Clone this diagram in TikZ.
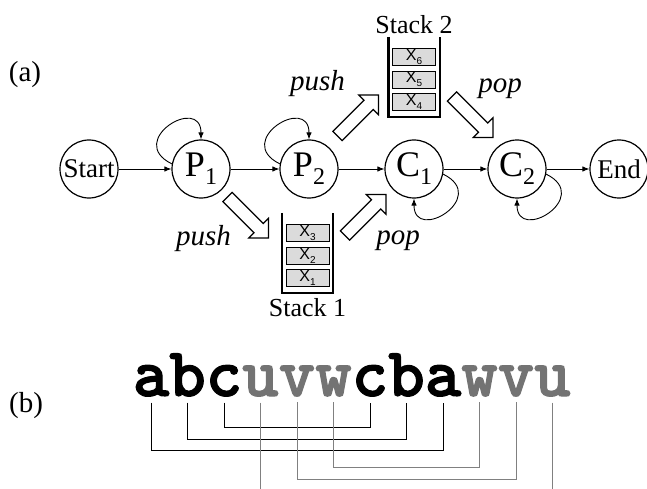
\documentclass[tikz,border=0pt]{standalone}
\usepackage{fontspec}
\setmainfont{Liberation Serif}
\setsansfont{Liberation Sans}
\newfontfamily\strfont{lmmonolt10-bold.otf}[FakeBold=1.6]
\usetikzlibrary{arrows.meta, positioning}

\definecolor{itemgray}{gray}{0.86}
\definecolor{strgray}{gray}{0.45}
\definecolor{linegray}{gray}{0.5}

\newcommand{\statelab}[2]{#1\raisebox{-8pt}{\fontsize{24}{24}\selectfont #2}}
\newcommand{\itemlab}[1]{X\raisebox{-4pt}{\fontsize{10}{10}\selectfont #1}}

\tikzset{
  blockarrow/.pic={
    \draw[line width=1.2pt, fill=white, line join=miter]
      (-29,-6.5) -- (15,-6.5) -- (15,-14) -- (29,0) -- (15,14) -- (15,6.5) -- (-29,6.5) -- cycle;
  }
}

\begin{document}
\begin{tikzpicture}[
  x=1pt, y=1pt,
  state/.style={
    circle, draw=black, line width=1.2pt, minimum size=58pt, inner sep=0pt,
    font=\fontsize{36}{36}\selectfont
  },
  endstate/.style={state, font=\fontsize{27}{27}\selectfont},
  flow/.style={-{Latex[length=7pt,width=5.5pt]}, line width=0.9pt},
  stackbox/.style={minimum width=51pt, minimum height=80pt, inner sep=0pt},
  wall/.style={line width=2.4pt},
  item/.style={
    draw=black, line width=0.8pt, fill=itemgray, minimum width=43pt,
    minimum height=17pt, inner sep=0pt, font=\sffamily\fontsize{16}{16}\selectfont
  },
  oplabel/.style={font=\itshape\fontsize{29}{29}\selectfont},
  caption/.style={font=\fontsize{26}{26}\selectfont},
  partlabel/.style={font=\fontsize{29}{29}\selectfont},
  letter/.style={anchor=base, inner sep=0pt, font=\strfont\fontsize{69.5}{69.5}\selectfont},
  pairline/.style={line width=0.9pt}
]
\useasboundingbox (0,0) rectangle (647,-489);

% ----------------- PART LABELS -----------------
\node[partlabel] (lbla) at (25,-75) {(a)};
\node[partlabel] (lblb) at (26,-406) {(b)};

% ----------------- STATES -----------------
\node[endstate] (start) at (89,-169) {Start};
\node[state] (p1) at (201,-169) {\statelab{P}{1}};
\node[state] (p2) at (309,-169) {\statelab{P}{2}};
\node[state] (c1) at (414,-169) {\statelab{C}{1}};
\node[state] (c2) at (517,-169) {\statelab{C}{2}};
\node[endstate] (end) at (619,-169) {End};

\draw[flow] (start) -- (p1);
\draw[flow] (p1) -- (p2);
\draw[flow] (p2) -- (c1);
\draw[flow] (c1) -- (c2);
\draw[flow] (c2) -- (end);

% self loops
\draw[flow] (p1.170) .. controls +(-47,23) and +(0,45) .. (p1.north);
\draw[flow] (p2.170) .. controls +(-47,23) and +(0,45) .. (p2.north);
\draw[flow] (c1.-10) .. controls +(47,-23) and +(0,-45) .. (c1.south);
\draw[flow] (c2.-10) .. controls +(47,-23) and +(0,-45) .. (c2.south);

% ----------------- STACKS -----------------
\node[stackbox] (stack1) at (307.5,-253) {};
\draw[wall] (stack1.north west) -- (stack1.south west) -- (stack1.south east) -- (stack1.north east);
\node[item, above=6pt of stack1.south] (x1) {\itemlab{1}};
\node[item, above=5pt of x1] (x2) {\itemlab{2}};
\node[item, above=5pt of x2] (x3) {\itemlab{3}};
\node[caption, below=2pt of stack1] (cap1) {Stack 1};

\node[stackbox] (stack2) at (414,-77) {};
\draw[wall] (stack2.north west) -- (stack2.south west) -- (stack2.south east) -- (stack2.north east);
\node[item, above=6pt of stack2.south] (x4) {\itemlab{4}};
\node[item, above=5pt of x4] (x5) {\itemlab{5}};
\node[item, above=5pt of x5] (x6) {\itemlab{6}};
\node[caption, above=0pt of stack2] (cap2) {Stack 2};

% ----------------- PUSH / POP -----------------
\pic[rotate=-45] at (248,-217.5) {blockarrow};
\pic[rotate=45] at (365.5,-215) {blockarrow};
\pic[rotate=45] at (358,-115.5) {blockarrow};
\pic[rotate=-45] at (472.5,-117) {blockarrow};

\node[oplabel] (push1lab) at (203.5,-239) {push};
\node[oplabel] (pop1lab) at (398,-241) {pop};
\node[oplabel] (push2lab) at (317.5,-84) {push};
\node[oplabel] (pop2lab) at (500,-88.5) {pop};

% ----------------- STRING -----------------
\foreach \ch/\col [count=\i] in {a/black, b/black, c/black, u/strgray, v/strgray, w/strgray,
                                 c/black, b/black, a/black, w/strgray, v/strgray, u/strgray}
  \node[letter, text=\col] (l\i) at ({151+36.5*(\i-1)},-396) {\ch};

% matching pairs
\draw[pairline] ([yshift=-6pt]l3.south) -- ++(0,-25) -| ([yshift=-6pt]l7.south);
\draw[pairline] ([yshift=-6pt]l2.south) -- ++(0,-37) -| ([yshift=-6pt]l8.south);
\draw[pairline] ([yshift=-6pt]l1.south) -- ++(0,-48) -| ([yshift=-6pt]l9.south);
\draw[pairline, linegray] ([yshift=-6pt]l6.south) -- ++(0,-65) -| ([yshift=-6pt]l10.south);
\draw[pairline, linegray] ([yshift=-6pt]l5.south) -- ++(0,-77) -| ([yshift=-6pt]l11.south);
\draw[pairline, linegray] ([yshift=-6pt]l4.south) -- ++(0,-95);
\draw[pairline, linegray] ([yshift=-6pt]l12.south) -- ++(0,-95);

\end{tikzpicture}
\end{document}
